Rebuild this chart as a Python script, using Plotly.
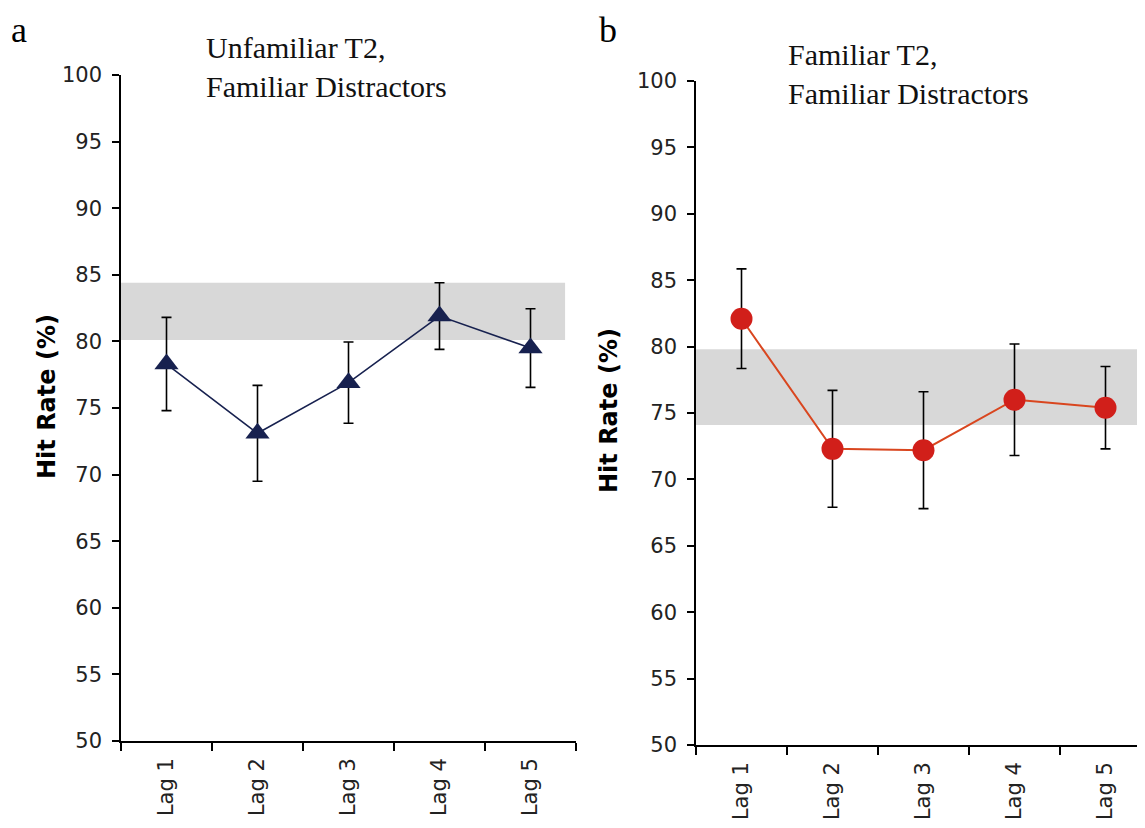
import plotly.graph_objects as go

# ---- data ----
lags = ["Lag 1", "Lag 2", "Lag 3", "Lag 4", "Lag 5"]
unfam_hit = [78.3, 73.1, 76.9, 81.9, 79.5]
unfam_err = [3.5, 3.6, 3.05, 2.5, 2.95]
fam_hit = [82.1, 72.3, 72.2, 76.0, 75.4]
fam_err = [3.75, 4.4, 4.4, 4.2, 3.1]
unfam_band = [80.1, 84.4]   # shaded baseline range, panel a
fam_band = [74.1, 79.8]     # shaded baseline range, panel b
y_ticks = [50, 55, 60, 65, 70, 75, 80, 85, 90, 95, 100]

# the page body has a default 8px margin; lay the figure out in screen pixels
OFF = 8
W, H = 1145 - 2 * OFF, 828 - 2 * OFF


def px(x):
    return (x - OFF) / W


def py(y):
    return 1 - (y - OFF) / H


NAVY = "#17214f"
RED = "#d11f1a"
REDLINE = "#d9461f"

fig = go.Figure()

fig.add_trace(go.Scatter(
    x=lags, y=unfam_hit, mode="lines+markers", xaxis="x", yaxis="y",
    line=dict(color=NAVY, width=1.6),
    marker=dict(symbol="triangle-up", size=21, color=NAVY),
    error_y=dict(type="data", array=unfam_err, color="black", thickness=1.6, width=5),
    showlegend=False, cliponaxis=False))

fig.add_trace(go.Scatter(
    x=lags, y=fam_hit, mode="lines+markers", xaxis="x2", yaxis="y2",
    line=dict(color=REDLINE, width=2),
    marker=dict(symbol="circle", size=22, color=RED),
    error_y=dict(type="data", array=fam_err, color="black", thickness=1.6, width=5),
    showlegend=False, cliponaxis=False))

# shaded bands
fig.add_shape(type="rect", xref="x", yref="y", x0=-0.5, x1=4.38,
              y0=unfam_band[0], y1=unfam_band[1], fillcolor="#d8d8d8",
              line=dict(width=0), layer="below")
fig.add_shape(type="rect", xref="x2", yref="y2", x0=-0.5, x1=4.4,
              y0=fam_band[0], y1=fam_band[1], fillcolor="#d8d8d8",
              line=dict(width=0), layer="below")

ytickfont = dict(family="DejaVu Sans", size=21, color="#222222")
xtickfont = dict(family="DejaVu Sans", size=21, color="#222222")
xcommon = dict(type="category", categoryorder="array", categoryarray=lags,
               showline=True, linecolor="black", linewidth=1.5,
               ticks="outside", ticklen=8, tickwidth=1.5, tickcolor="black",
               tickson="boundaries", tickangle=-90, tickfont=xtickfont,
               showgrid=False, zeroline=False, automargin=False,
               ticklabelstandoff=7)
ycommon = dict(range=[50, 100], tickvals=y_ticks, showline=True, linecolor="black",
               linewidth=1.5, ticks="outside", ticklen=7, tickwidth=1.5,
               tickcolor="black", tickfont=ytickfont, showgrid=False,
               zeroline=False, automargin=False, ticklabelstandoff=6)

right_end = -0.5 + (1137 - 696) / 91.0

fig.update_layout(
    width=W, height=H, template="none",
    paper_bgcolor="white", plot_bgcolor="rgba(0,0,0,0)",
    margin=dict(l=0, r=0, t=0, b=0),
    xaxis=dict(domain=[px(121), px(576)], range=[-0.5, 4.5], anchor="y", **xcommon),
    yaxis=dict(domain=[py(741), py(75)], anchor="x", **ycommon),
    xaxis2=dict(domain=[px(696), 1.0], range=[-0.5, right_end], anchor="y2", **xcommon),
    yaxis2=dict(domain=[py(745), py(81)], anchor="x2", **ycommon),
)

serif = "Liberation Serif"
ann = [
    dict(text="a", x=px(9), y=1.0, xanchor="left", yanchor="top",
         font=dict(family=serif, size=36, color="black")),
    dict(text="b", x=px(597), y=1.0, xanchor="left", yanchor="top",
         font=dict(family=serif, size=36, color="black")),
    dict(text="Unfamiliar T2,<br>Familiar Distractors", x=px(204), y=py(29),
         xanchor="left", yanchor="top", align="left",
         font=dict(family=serif, size=30, color="#111111")),
    dict(text="Familiar T2,<br>Familiar Distractors", x=px(786), y=py(36),
         xanchor="left", yanchor="top", align="left",
         font=dict(family=serif, size=30, color="#111111")),
    dict(text="<b>Hit Rate (%)</b>", x=px(47), y=py(397), textangle=-90,
         xanchor="center", yanchor="middle",
         font=dict(family="DejaVu Sans", size=24, color="black")),
    dict(text="<b>Hit Rate (%)</b>", x=px(609), y=py(411), textangle=-90,
         xanchor="center", yanchor="middle",
         font=dict(family="DejaVu Sans", size=24, color="black")),
]
for a in ann:
    a.update(xref="paper", yref="paper", showarrow=False)
fig.update_layout(annotations=ann)

fig.write_html("out.html")
